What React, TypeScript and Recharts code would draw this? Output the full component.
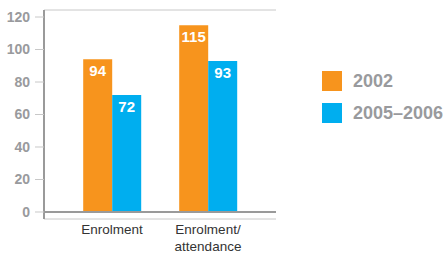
import React from "react";
import { BarChart, Bar, XAxis, YAxis, CartesianGrid, ReferenceLine, LabelList } from "recharts";

const categories = ["Enrolment", "Enrolment/\nattendance"];
const values2002 = [94, 115];
const values2005 = [72, 93];
const yTicks = [0, 20, 40, 60, 80, 100, 120];
const seriesNames = ["2002", "2005–2006"];

const ORANGE = "#F7941D";
const BLUE = "#00AEEF";
const GRAY_TEXT = "#999A9D";
const FONT = "'Liberation Sans', Arial, sans-serif";

const data = categories.map((c, i) => ({ name: c, a: values2002[i], b: values2005[i] }));

const XTick = (props: any) => {
  const { x, y, payload } = props;
  const lines = String(payload.value).split("\n");
  return (
    <text x={x} y={y} textAnchor="middle" fill="#333" fontSize={13.5} fontFamily={FONT}>
      {lines.map((l, i) => (
        <tspan key={i} x={x} dy={i === 0 ? 7 : 16.5}>{l}</tspan>
      ))}
    </text>
  );
};

export default function App() {
  return (
    <div style={{ position: "absolute", left: 0, top: 0, width: 448, height: 254, background: "#fff" }}>
      <BarChart width={448} height={254} data={data} margin={{ top: 10, right: 172, bottom: 0, left: 0 }} barGap={0} barCategoryGap="20%">
        <CartesianGrid vertical={false} stroke="#C8C8C8" strokeWidth={1} />
        <XAxis dataKey="name" axisLine={false} tickLine={false} height={35} padding={{ left: 20, right: 20 }} tick={<XTick />} interval={0} />
        <YAxis
          yAxisId="l"
          width={44}
          domain={[-4.31, 124.31]}
          ticks={yTicks}
          allowDataOverflow
          axisLine={{ stroke: "#9A9A9A", strokeWidth: 2 }}
          tickLine={{ stroke: "#C8C8C8" }}
          tickSize={9}
          tickMargin={5}
          tick={{ fill: GRAY_TEXT, fontSize: 14, fontWeight: "bold", fontFamily: FONT }}
        />
        <YAxis yAxisId="r" orientation="right" width={0} domain={[-4.31, 124.31]} ticks={[]} axisLine={{ stroke: "#9A9A9A", strokeWidth: 2 }} tickLine={false} tick={false} />
        <ReferenceLine yAxisId="l" y={0} stroke="#9A9A9A" strokeWidth={2} />
        <Bar yAxisId="l" dataKey="a" name={seriesNames[0]} fill={ORANGE} isAnimationActive={false}>
          <LabelList dataKey="a" position="insideTop" offset={6} fill="#fff" fontSize={15} fontWeight="bold" fontFamily={FONT} />
        </Bar>
        <Bar yAxisId="l" dataKey="b" name={seriesNames[1]} fill={BLUE} isAnimationActive={false}>
          <LabelList dataKey="b" position="insideTop" offset={6} fill="#fff" fontSize={15} fontWeight="bold" fontFamily={FONT} />
        </Bar>
      </BarChart>
      <div style={{ position: "absolute", left: 322, top: 71, width: 126, fontFamily: FONT }}>
        {seriesNames.map((n, i) => (
          <div key={n} style={{ display: "flex", alignItems: "center", height: 20, marginBottom: i === 0 ? 12 : 0 }}>
            <div style={{ width: 20, height: 20, background: i === 0 ? ORANGE : BLUE, marginRight: 11, flexShrink: 0 }} />
            <span style={{ color: GRAY_TEXT, fontWeight: "bold", fontSize: 18, whiteSpace: "nowrap" }}>{n}</span>
          </div>
        ))}
      </div>
    </div>
  );
}
